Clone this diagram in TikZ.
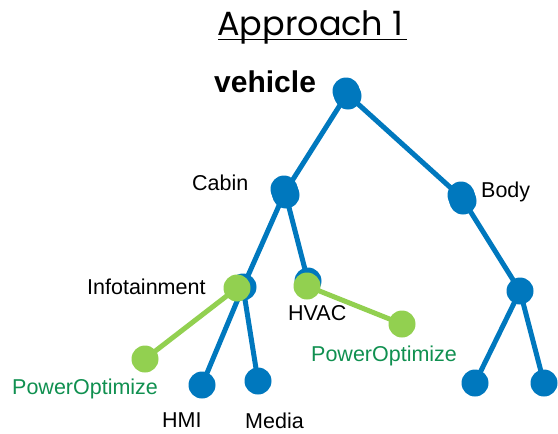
\documentclass[tikz,border=0pt]{standalone}
\usepackage{fontspec}
\setmainfont{Liberation Sans}
\newfontfamily\titlefont{Poppins}
\definecolor{nodeblue}{RGB}{0,120,190}
\definecolor{nodegreen}{RGB}{146,208,80}
\definecolor{textgreen}{RGB}{16,144,80}
\begin{document}
\begin{tikzpicture}[x=1pt,y=-1pt,
  bnode/.style={circle,fill=nodeblue,inner sep=0pt,minimum size=27pt},
  gnode/.style={circle,fill=nodegreen,inner sep=0pt,minimum size=27pt},
  bedge/.style={draw=nodeblue,line width=5pt},
  gedge/.style={draw=nodegreen,line width=5pt},
  lbl/.style={anchor=base west,inner sep=0pt,font=\fontsize{21.5}{24}\selectfont},
  glbl/.style={lbl,text=textgreen}]
\useasboundingbox (0,0) rectangle (558,434);
% title
\node[anchor=base west,inner sep=0pt,font=\titlefont\fontsize{33.5}{36}\selectfont] (title) at (217,35) {Approach 1};
\draw[line width=1.6pt] (218,39.5) -- (407,39.5);
\node[anchor=base west,inner sep=0pt,font=\bfseries\fontsize{30}{34}\selectfont] (vlabel) at (214,92) {vehicle};
% coordinates of nodes
\coordinate (pv) at (347,94);
\coordinate (pc) at (285,192);
\coordinate (pb) at (462,198);
\coordinate (pi) at (243,287);
\coordinate (ph) at (308,281);
\coordinate (pr) at (520,291);
\coordinate (pm) at (202,385);
\coordinate (pme) at (258,381);
\coordinate (pr1) at (475,383);
\coordinate (pr2) at (544,383);
% blue edges
\draw[bedge] (pv) -- (pc);
\draw[bedge] (pv) -- (pb);
\draw[bedge] (pc) -- (pi);
\draw[bedge] (pc) -- (ph);
\draw[bedge] (pb) -- (pr);
\draw[bedge] (pr) -- (pr1);
\draw[bedge] (pr) -- (pr2);
\draw[bedge] (pi) -- (pm);
\draw[bedge] (pi) -- (pme);
% blue nodes
\node[bnode] (vehicle) at (pv) {};
\node[bnode] at (346,91) {};
\node[bnode] at (348,96) {};
\node[bnode] (cabin) at (pc) {};
\node[bnode] at (284,189) {};
\node[bnode] at (286,195) {};
\node[bnode] (body) at (pb) {};
\node[bnode] at (461,195) {};
\node[bnode] at (463,201) {};
\node[bnode] (info) at (pi) {};
\node[bnode] (hvac) at (ph) {};
\node[bnode] (right) at (pr) {};
\node[bnode] (hmi) at (pm) {};
\node[bnode] (media) at (pme) {};
\node[bnode] (r1) at (pr1) {};
\node[bnode] (r2) at (pr2) {};
% green edges and nodes
\coordinate (gi) at (237,288);
\coordinate (gh) at (307,286);
\coordinate (gp1) at (145,359);
\coordinate (gp2) at (402,324);
\draw[gedge] (gi) -- (gp1);
\draw[gedge] (gh) -- (gp2);
\node[gnode] (ginfo) at (gi) {};
\node[gnode] (ghvac) at (gh) {};
\node[gnode] (po1) at (gp1) {};
\node[gnode] (po2) at (gp2) {};
% labels
\node[lbl] (lcabin) at (192,190) {Cabin};
\node[lbl] (lbody) at (481,197) {Body};
\node[lbl] (linfo) at (87,294) {Infotainment};
\node[lbl] (lhvac) at (288,320) {HVAC};
\node[glbl] (lpo2) at (311,361) {PowerOptimize};
\node[glbl] (lpo1) at (12,394) {PowerOptimize};
\node[lbl] (lhmi) at (162,427) {HMI};
\node[lbl] (lmedia) at (245,428) {Media};
\end{tikzpicture}
\end{document}
